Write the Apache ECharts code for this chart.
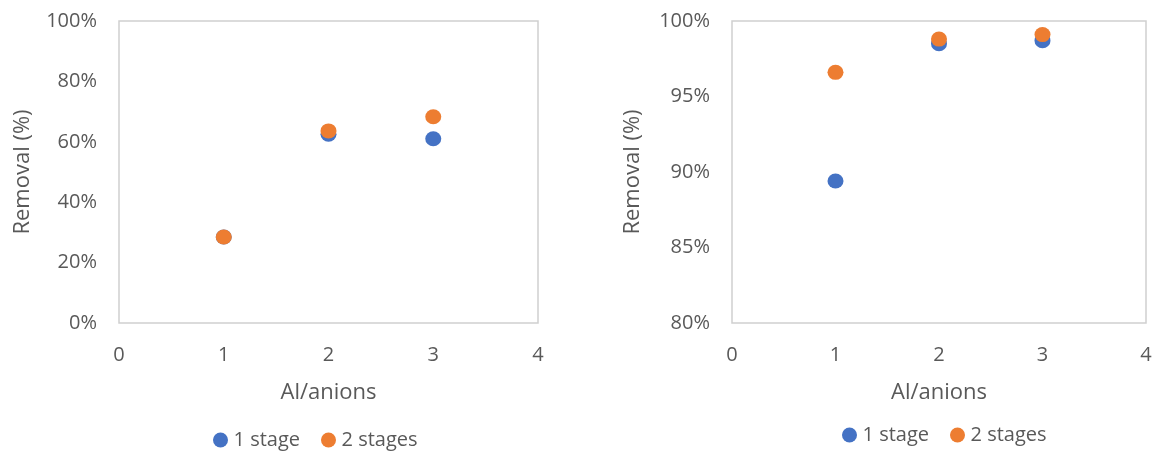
<!DOCTYPE html>
<html>
<head>
<meta charset="utf-8">
<script src="https://cdn.jsdelivr.net/npm/echarts@6/dist/echarts.min.js"></script>
<style>
  html, body { margin: 0; padding: 0; background: #fff; }
  #chart { width: 1156px; height: 454px; }
</style>
</head>
<body>
<div id="chart"></div>
<script>
// Al/anions ratio on the x axis
const ratios = [1, 2, 3];

// Removal (%) — left panel
const leftOneStage = [28.5, 62.5, 61.0];
const leftTwoStages = [28.5, 63.6, 68.3];

// Removal (%) — right panel
const rightOneStage = [89.4, 98.5, 98.7];
const rightTwoStages = [96.6, 98.8, 99.1];

const seriesNames = ['1 stage', '2 stages'];
const colors = ['#4472C4', '#ED7D31'];

const FONT = 'Open Sans';
const TEXT = '#595959';

function pairs(xs, ys) {
  return xs.map((x, i) => [x, ys[i]]);
}

function xAxis(gridIndex) {
  return {
    type: 'value', gridIndex, min: 0, max: 4, interval: 1,
    name: 'Al/anions', nameLocation: 'middle', nameGap: 59,
    nameTextStyle: { fontFamily: FONT, fontSize: 22, color: TEXT },
    axisLine: { show: false }, axisTick: { show: false }, splitLine: { show: false },
    axisLabel: { fontFamily: FONT, fontSize: 20, color: TEXT, margin: 22 }
  };
}

function yAxis(gridIndex, min, max, interval, gap) {
  return {
    type: 'value', gridIndex, min, max, interval,
    name: 'Removal (%)', nameLocation: 'middle', nameGap: gap,
    nameTextStyle: { fontFamily: FONT, fontSize: 22, color: TEXT },
    axisLine: { show: false }, axisTick: { show: false }, splitLine: { show: false },
    axisLabel: { fontFamily: FONT, fontSize: 20, color: TEXT, margin: 22, formatter: '{value}%' }
  };
}

function scatter(name, color, idx, data) {
  return {
    type: 'scatter', name, xAxisIndex: idx, yAxisIndex: idx,
    symbol: 'circle', symbolSize: [16, 15],
    itemStyle: { color, opacity: 1 },
    data
  };
}

function legend(left, top) {
  return {
    left, top, padding: 0, data: seriesNames,
    icon: 'circle', itemWidth: 16, itemHeight: 15, itemGap: 21,
    textStyle: { fontFamily: FONT, fontSize: 20, color: TEXT }
  };
}

const chart = echarts.init(document.getElementById('chart'), null, { renderer: 'canvas' });
chart.setOption({
  backgroundColor: '#ffffff',
  animation: false,
  color: colors,
  grid: [
    { left: 119, top: 21, width: 419, height: 302, show: true, borderColor: '#d0d0d0', borderWidth: 1.5, backgroundColor: 'transparent' },
    { left: 732, top: 21, width: 414, height: 302, show: true, borderColor: '#d0d0d0', borderWidth: 1.5, backgroundColor: 'transparent' }
  ],
  xAxis: [xAxis(0), xAxis(1)],
  yAxis: [yAxis(0, 0, 100, 20, 85), yAxis(1, 80, 100, 5, 88)],
  legend: [legend(213, 430), legend(842, 425)],
  series: [
    scatter(seriesNames[0], colors[0], 0, pairs(ratios, leftOneStage)),
    scatter(seriesNames[1], colors[1], 0, pairs(ratios, leftTwoStages)),
    scatter(seriesNames[0], colors[0], 1, pairs(ratios, rightOneStage)),
    scatter(seriesNames[1], colors[1], 1, pairs(ratios, rightTwoStages))
  ]
});
</script>
</body>
</html>
